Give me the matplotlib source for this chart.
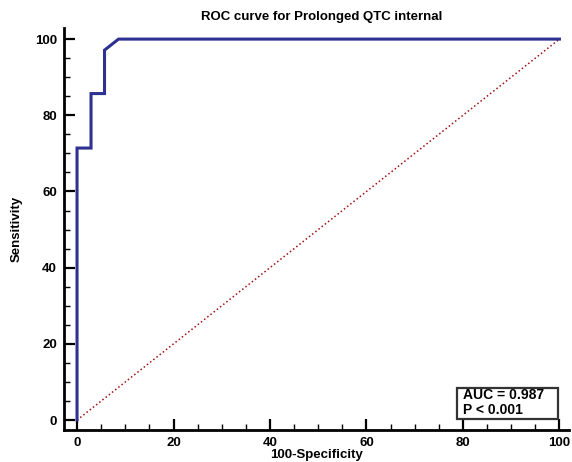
import numpy as np
import matplotlib.pyplot as plt
from matplotlib.patches import Rectangle

plt.rcParams['font.family'] = ['Liberation Sans', 'DejaVu Sans']

# ROC points (100-Specificity, Sensitivity)
fpr = [0, 0, 2.9, 2.9, 5.7, 5.7, 8.6, 100]
tpr = [0, 71.4, 71.4, 85.7, 85.7, 97.1, 100, 100]
auc_text = "AUC = 0.987\nP < 0.001"
ticks = [0, 20, 40, 60, 80, 100]

fig = plt.figure(figsize=(5.72, 4.62), dpi=100)
ax = fig.add_axes([0.1119, 0.0693, 0.883, 0.870])

ax.plot([0, 100], [0, 100], color='#a01010', linestyle=':', linewidth=1.1)
ax.plot(fpr, tpr, color='#2e3192', linewidth=2.2, solid_joinstyle='miter')

ax.set_xlim(-2.7, 102)
ax.set_ylim(-2.6, 102.9)
ax.set_xticks(ticks)
ax.set_yticks(ticks)
ax.set_xticks(np.arange(0, 101, 5), minor=True)
ax.set_yticks(np.arange(0, 101, 5), minor=True)
ax.tick_params(which='major', direction='in', length=8, width=1.6, labelsize=9.5, pad=5)
ax.tick_params(which='minor', direction='in', length=4, width=1.0)
for lab in ax.get_xticklabels() + ax.get_yticklabels():
    lab.set_fontweight('bold')

for s in ['top', 'right']:
    ax.spines[s].set_visible(False)
for s in ['left', 'bottom']:
    ax.spines[s].set_linewidth(2)

fig.text(0.563, 0.963, "ROC curve for Prolonged QTC internal", fontsize=9.5,
         fontweight='bold', ha='center', va='center')
ax.set_xlabel("100-Specificity", fontsize=9.5, fontweight='bold', labelpad=0)
ax.set_ylabel("Sensitivity", fontsize=9.5, fontweight='bold', labelpad=9)

ax.add_patch(Rectangle((0.778, 0.027), 0.200, 0.077, transform=ax.transAxes,
                       facecolor='white', edgecolor='#333333', linewidth=1.6, zorder=5))
ax.text(0.790, 0.068, auc_text, transform=ax.transAxes, fontsize=10, fontweight='bold',
        va='center', ha='left', linespacing=1.05, zorder=6)

fig.savefig('out.png', dpi=100)
